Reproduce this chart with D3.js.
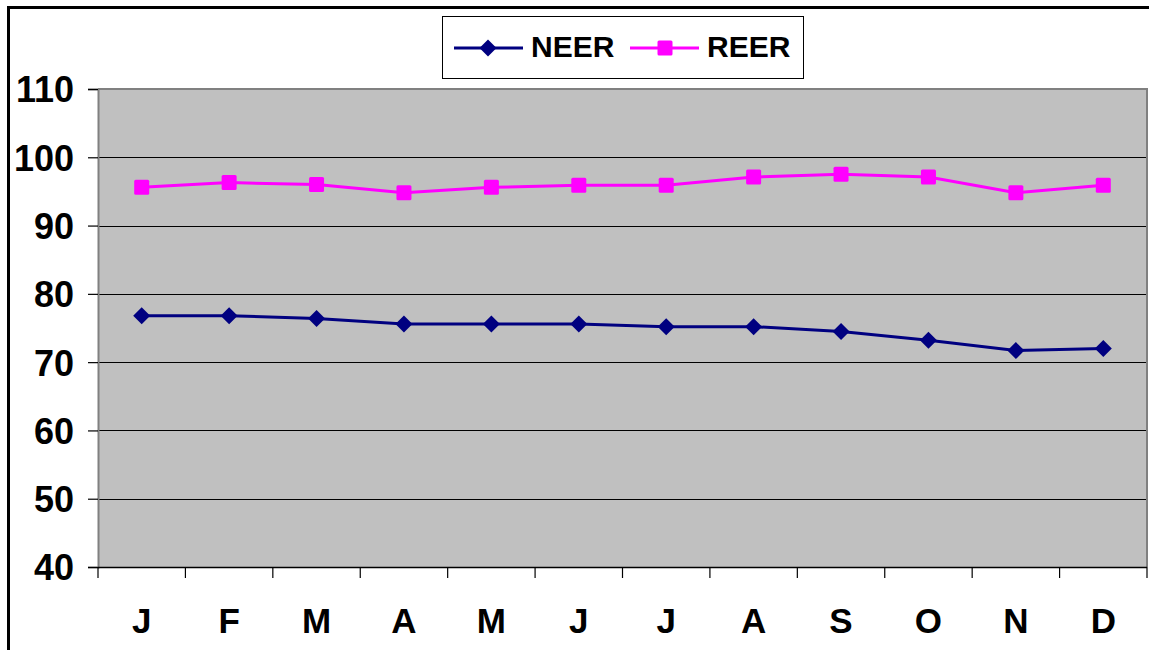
<!DOCTYPE html>
<html>
<head>
<meta charset="utf-8">
<script src="https://cdn.jsdelivr.net/npm/d3@7/dist/d3.min.js"></script>
<style>
  html, body { margin: 0; padding: 0; background: #ffffff; }
  svg { display: block; }
  text { font-family: "Liberation Sans", Arial, sans-serif; font-weight: bold; fill: #000; }
</style>
</head>
<body>
<svg id="chart" width="1149" height="650"></svg>
<script>
// Monthly effective exchange rate indices
const months = ["J", "F", "M", "A", "M", "J", "J", "A", "S", "O", "N", "D"];
const neer = [76.8, 76.8, 76.4, 75.6, 75.6, 75.6, 75.2, 75.2, 74.5, 73.2, 71.7, 72.0];
const reer = [95.6, 96.3, 96.0, 94.8, 95.6, 95.9, 95.9, 97.1, 97.5, 97.1, 94.8, 95.9];
const yTicks = [40, 50, 60, 70, 80, 90, 100, 110];

const svg = d3.select("#chart");
const W = 1149, H = 650;
const plot = { left: 98, right: 1147, top: 89, bottom: 567 };

// outer chart frame
svg.append("line").attr("x1", 8).attr("x2", W).attr("y1", 7.5).attr("y2", 7.5)
  .attr("stroke", "#000").attr("stroke-width", 3);
svg.append("line").attr("x1", 8.5).attr("x2", 8.5).attr("y1", 6).attr("y2", H)
  .attr("stroke", "#000").attr("stroke-width", 3);

const x = d3.scaleBand().domain(d3.range(months.length))
  .range([plot.left, plot.right]).paddingInner(0).paddingOuter(0);
const y = d3.scaleLinear().domain([40, 110]).range([plot.bottom, plot.top]);

// plot background
svg.append("rect")
  .attr("x", plot.left).attr("y", plot.top)
  .attr("width", plot.right - plot.left).attr("height", plot.bottom - plot.top)
  .attr("fill", "#c0c0c0");

// horizontal gridlines
svg.append("g").selectAll("line").data(yTicks.filter(v => v > 40 && v < 110)).join("line")
  .attr("x1", plot.left).attr("x2", plot.right)
  .attr("y1", d => Math.round(y(d)) + 0.5).attr("y2", d => Math.round(y(d)) + 0.5)
  .attr("stroke", "#000").attr("stroke-width", 1.2);

// plot border (top and right)
svg.append("path")
  .attr("d", `M${plot.left},${plot.top} H${plot.right} V${plot.bottom}`)
  .attr("fill", "none").attr("stroke", "#808080").attr("stroke-width", 2);

// y axis
const yAxis = d3.axisLeft(y).tickValues(yTicks).tickSize(10).tickPadding(14).tickFormat(d3.format("d"));
const gy = svg.append("g").attr("transform", `translate(${plot.left},0)`).call(yAxis);
gy.select(".domain").attr("stroke", "#808080").attr("stroke-width", 2);
gy.selectAll(".tick line").attr("stroke", "#000").attr("stroke-width", 1.2);
gy.selectAll(".tick text").attr("font-size", 36).attr("dy", "0.36em")
  .style("font-family", "'Liberation Sans', Arial, sans-serif").style("font-weight", "bold").attr("fill", "#000");

// x axis: ticks at category boundaries, labels centred in each band
const gx = svg.append("g");
gx.append("line").attr("x1", plot.left).attr("x2", plot.right)
  .attr("y1", plot.bottom + 0.5).attr("y2", plot.bottom + 0.5)
  .attr("stroke", "#000").attr("stroke-width", 1.5);
const bounds = d3.range(months.length + 1).map(i => i < months.length ? x(i) : plot.right);
gx.selectAll("line.tk").data(bounds).join("line").attr("class", "tk")
  .attr("x1", d => d).attr("x2", d => d)
  .attr("y1", plot.bottom).attr("y2", plot.bottom + 11)
  .attr("stroke", "#000").attr("stroke-width", 1.2);
gx.selectAll("text").data(months).join("text")
  .attr("x", (d, i) => x(i) + x.bandwidth() / 2)
  .attr("y", 633)
  .attr("text-anchor", "middle")
  .attr("font-size", 35)
  .text(d => d);

// series
const cx = i => x(i) + x.bandwidth() / 2;
const line = d3.line().x((d, i) => cx(i)).y(d => y(d));

svg.append("path").datum(neer).attr("d", line)
  .attr("fill", "none").attr("stroke", "#000080").attr("stroke-width", 3);
svg.append("path").datum(reer).attr("d", line)
  .attr("fill", "none").attr("stroke", "#ff00ff").attr("stroke-width", 3);

const diamond = s => `M0,${-s} L${s},0 L0,${s} L${-s},0 Z`;
svg.append("g").selectAll("path").data(neer).join("path")
  .attr("transform", (d, i) => `translate(${cx(i)},${y(d)})`)
  .attr("d", diamond(8.5)).attr("fill", "#000080");
svg.append("g").selectAll("rect").data(reer).join("rect")
  .attr("x", (d, i) => cx(i) - 7.5).attr("y", d => y(d) - 7.5)
  .attr("width", 15).attr("height", 15).attr("rx", 1.5)
  .attr("fill", "#ff00ff");

// legend
const lg = svg.append("g");
lg.append("rect").attr("x", 442.5).attr("y", 16.5).attr("width", 361).attr("height", 62)
  .attr("fill", "#fff").attr("stroke", "#000").attr("stroke-width", 1);
lg.append("line").attr("x1", 454).attr("x2", 523).attr("y1", 48).attr("y2", 48)
  .attr("stroke", "#000080").attr("stroke-width", 3);
lg.append("path").attr("transform", "translate(488,48)").attr("d", diamond(8.5)).attr("fill", "#000080");
lg.append("text").attr("x", 531).attr("y", 57).attr("font-size", 30).text("NEER");
lg.append("line").attr("x1", 630).attr("x2", 699).attr("y1", 48).attr("y2", 48)
  .attr("stroke", "#ff00ff").attr("stroke-width", 3);
lg.append("rect").attr("x", 657.5).attr("y", 40.5).attr("width", 15).attr("height", 15).attr("rx", 1.5)
  .attr("fill", "#ff00ff");
lg.append("text").attr("x", 707).attr("y", 57).attr("font-size", 30).text("REER");
</script>
</body>
</html>
